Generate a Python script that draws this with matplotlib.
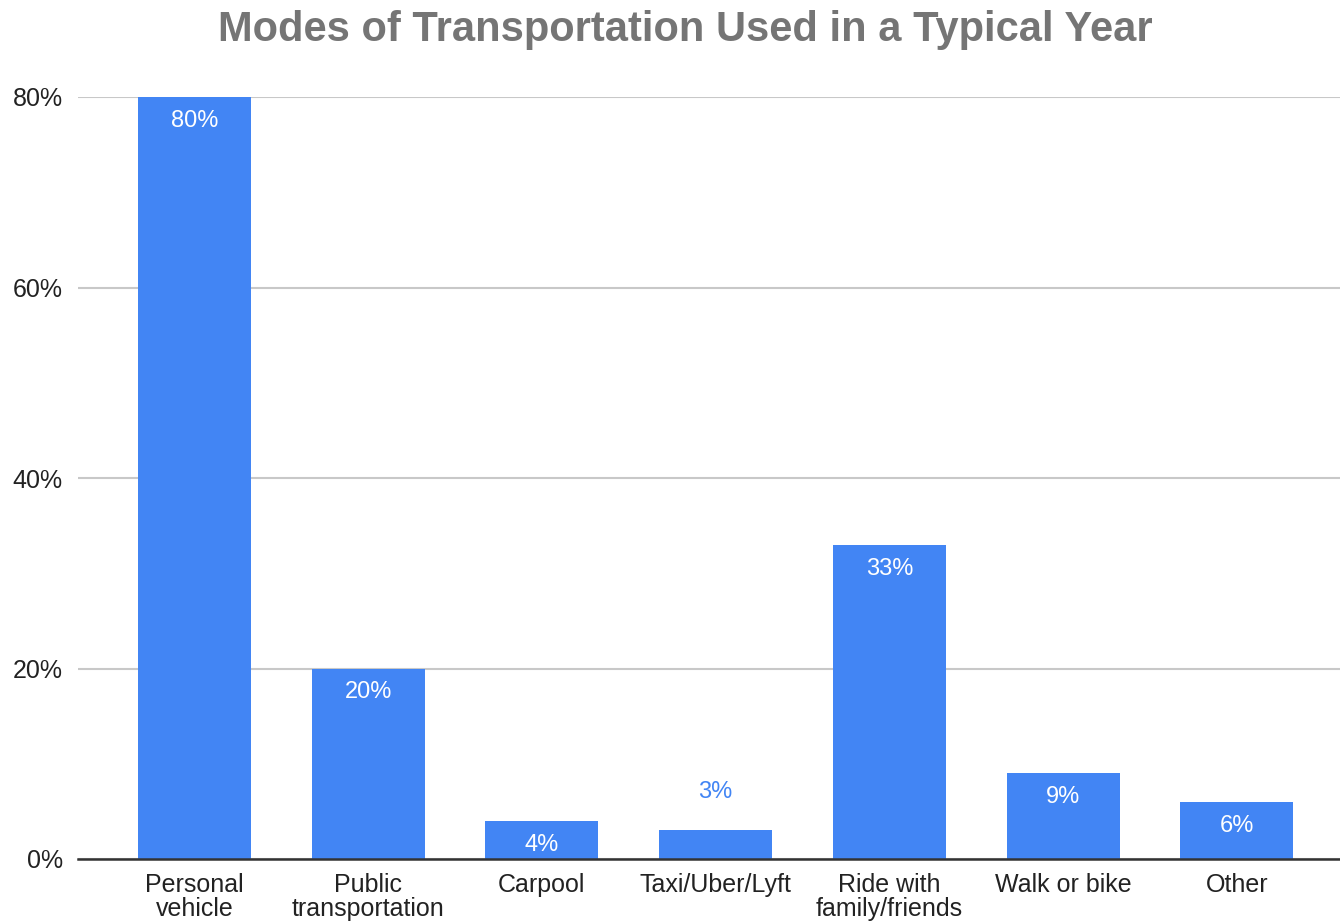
import matplotlib
matplotlib.use("Agg")
import matplotlib.pyplot as plt
from matplotlib.ticker import FixedLocator

categories = ["Personal\nvehicle", "Public\ntransportation", "Carpool", "Taxi/Uber/Lyft",
              "Ride with\nfamily/friends", "Walk or bike", "Other"]
values = [80, 20, 4, 3, 33, 9, 6]
yticks = [0, 20, 40, 60, 80]
title = "Modes of Transportation Used in a Typical Year"

plt.rcParams['font.family'] = ['Liberation Sans', 'DejaVu Sans']
BLUE = "#4285F4"

fig = plt.figure(figsize=(13.4, 9.23), dpi=100)
ax = fig.add_axes([78/1340, 1-859/923, 1-78/1340, (859-97)/923])

x = list(range(len(categories)))
bars = ax.bar(x, values, width=0.65, color=BLUE, zorder=3, clip_on=False)

ax.set_xlim(-0.67, 6.593)
ax.set_ylim(0, 80)
ax.yaxis.set_major_locator(FixedLocator(yticks))
ax.set_yticklabels([f"{t}%" for t in yticks], fontsize=18, color="#222222")
ax.set_xticks(x)
ax.set_xticklabels(categories, fontsize=18, color="#222222", linespacing=1.0)
ax.tick_params(axis='both', length=0)
ax.tick_params(axis='y', pad=11)
ax.tick_params(axis='x', pad=10)

ax.grid(axis='y', color="#c8c8c8", linewidth=1.5, zorder=0)
for s in ["top", "right", "left"]:
    ax.spines[s].set_visible(False)
ax.spines["bottom"].set_color("#333333")
ax.spines["bottom"].set_linewidth(1.8)
ax.spines["bottom"].set_zorder(4)

for xi, v in zip(x, values):
    if v >= 4:
        ax.annotate(f"{v}%", (xi, v), xytext=(0, -24), textcoords="offset pixels",
                    ha="center", va="center", color="white", fontsize=17, zorder=5)
    else:
        ax.annotate(f"{v}%", (xi, v), xytext=(0, 38), textcoords="offset pixels",
                    ha="center", va="center", color=BLUE, fontsize=17, zorder=5)

fig.text(685/1340, 1-30/923, title, ha="center", va="center", fontsize=30,
         fontweight="bold", color="#757575")

fig.savefig("out.png", dpi=100)
